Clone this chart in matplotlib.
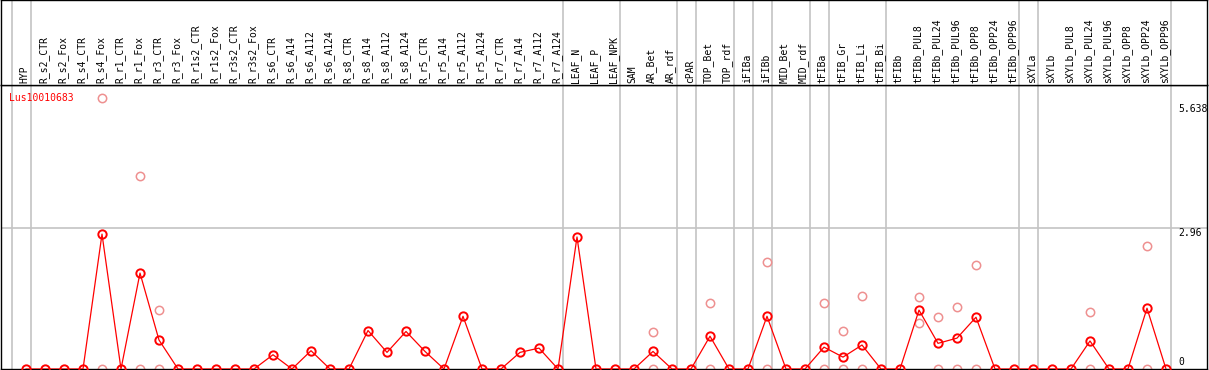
import numpy as np
import matplotlib
matplotlib.use("Agg")
import matplotlib.pyplot as plt

# sample names, one column each
samples = ["HYP", "R_s2_CTR", "R_s2_Fox", "R_s4_CTR", "R_s4_Fox", "R_r1_CTR", "R_r1_Fox",
           "R_r3_CTR", "R_r3_Fox", "R_r1s2_CTR", "R_r1s2_Fox", "R_r3s2_CTR", "R_r3s2_Fox",
           "R_s6_CTR", "R_s6_A14", "R_s6_A112", "R_s6_A124", "R_s8_CTR", "R_s8_A14",
           "R_s8_A112", "R_s8_A124", "R_r5_CTR", "R_r5_A14", "R_r5_A112", "R_r5_A124",
           "R_r7_CTR", "R_r7_A14", "R_r7_A112", "R_r7_A124", "LEAF_N", "LEAF_P", "LEAF_NPK",
           "SAM", "AR_Bet", "AR_rdf", "cPAR", "TOP_Bet", "TOP_rdf", "iFIBa", "iFIBb",
           "MID_Bet", "MID_rdf", "tFIBa", "tFIB_Gr", "tFIB_Li", "tFIB_Bi", "tFIBb",
           "tFIBb_PUL8", "tFIBb_PUL24", "tFIBb_PUL96", "tFIBb_OPP8", "tFIBb_OPP24",
           "tFIBb_OPP96", "sXYLa", "sXYLb", "sXYLb_PUL8", "sXYLb_PUL24", "sXYLb_PUL96",
           "sXYLb_OPP8", "sXYLb_OPP24", "sXYLb_OPP96"]

# mean expression per sample
means = [0, 0, 0, 0, 2.84, 0, 2.02, 0.61, 0, 0,
         0, 0, 0, 0.30, 0, 0.385, 0, 0, 0.81, 0.35,
         0.79, 0.37, 0, 1.11, 0, 0, 0.35, 0.44, 0, 2.78,
         0, 0, 0, 0.37, 0, 0, 0.69, 0, 0, 1.11,
         0, 0, 0.46, 0.25, 0.505, 0, 0, 1.24, 0.54, 0.65,
         1.09, 0, 0, 0, 0, 0, 0.59, 0, 0, 1.28,
         0]

# visible replicate values (sample index, value)
rep_idx = [4, 4, 6, 6, 7, 7, 33, 33, 36, 36, 39, 39, 42, 42, 43, 43, 44, 44,
           47, 47, 48, 48, 49, 49, 50, 50, 56, 56, 59, 59]
rep_val = [5.70, 0, 4.06, 0, 1.24, 0, 0.77, 0, 1.38, 0, 2.25, 0, 1.40, 0, 0.79, 0,
           1.53, 0, 1.51, 0.96, 1.09, 0, 1.30, 0, 2.20, 0, 1.20, 0, 2.58, 0]

# group separators (after these sample indices)
group_ends = [-1, 0, 28, 31, 34, 35, 37, 38, 39, 41, 42, 45, 52, 53, 60]

gene = "Lus10010683"
tick_vals = [5.638, 2.96, 0]

W, H = 1209, 370
fig = plt.figure(figsize=(W / 100, H / 100), dpi=100)
fig.patch.set_facecolor("white")

L, R = 1, 1207
top_line, bottom_line = 85, 369
x0, step = 26, 19.0
px_per_unit = 47.5

xlim = ((L - x0) / step, (R - x0) / step)
ax = fig.add_axes([L / W, (H - bottom_line) / H, (R - L) / W, (bottom_line - top_line) / H])
axh = fig.add_axes([L / W, (H - top_line) / H, (R - L) / W, top_line / H])

mono = "DejaVu Sans Mono"
for a in (ax, axh):
    a.set_xlim(*xlim)
    a.set_xticks([])
    a.set_yticks([])
    for s in a.spines.values():
        s.set_color("black")
        s.set_linewidth(1.0)
    for g in group_ends:
        a.axvline(g + 0.25, color="#c4c4c4", lw=1.2, zorder=0)

ax.set_ylim(0, (bottom_line - top_line) / px_per_unit)
axh.set_ylim(0, 1)

ax.axhline(2.96, color="#c4c4c4", lw=1.2, zorder=0)

x = np.arange(len(samples))
ax.plot(rep_idx, rep_val, ls="none", marker="o", ms=6, mfc="none",
        mec="#ee9090", mew=1.1, zorder=2)
ax.plot(x, means, color="red", lw=0.9, marker="o", ms=6, mfc="none",
        mec="red", mew=1.4, zorder=3)

for i, name in enumerate(samples):
    axh.text(i - 0.07, 0.025, name, rotation=90, ha="center", va="bottom",
             fontsize=7, family=mono, color="black")

ax.text(0.007, (bottom_line - 98) / px_per_unit, gene, transform=ax.get_yaxis_transform(),
        color="red", fontsize=7, family=mono, va="center", ha="left")

offsets = {5.638: -5.5, 2.96: -3.0, 0: 4.8}
lab_x = (1178 - x0) / step
for v in tick_vals:
    ax.annotate(f"{v:g}", xy=(lab_x, v), xytext=(0, offsets[v]),
                textcoords="offset points", fontsize=7, family=mono,
                va="center", ha="left", color="black", annotation_clip=False)

fig.savefig("out.png", dpi=100, facecolor="white")
